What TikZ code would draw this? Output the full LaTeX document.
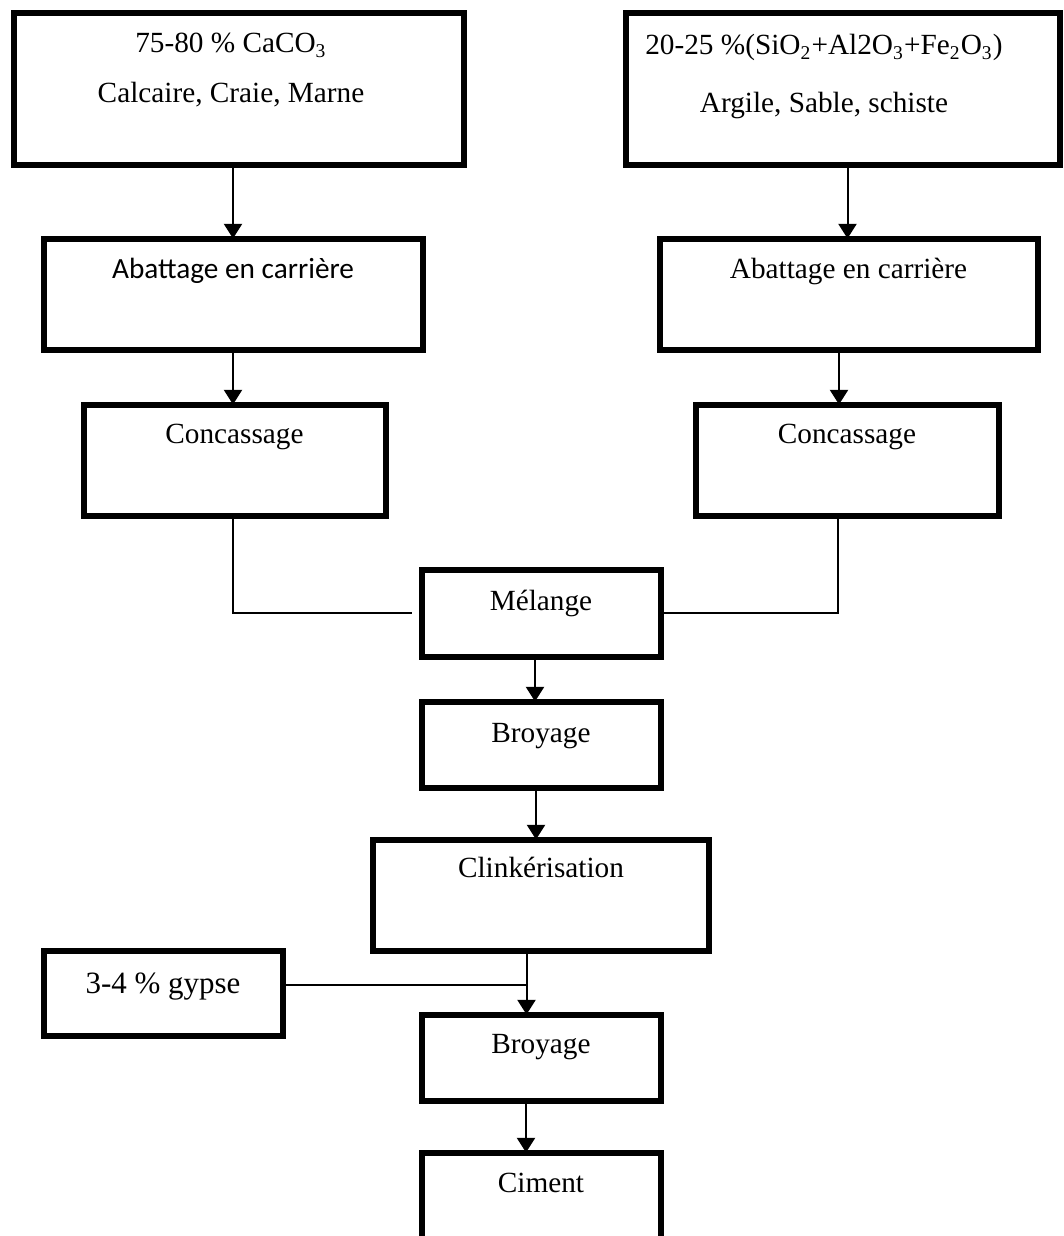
\documentclass[tikz,border=0pt,12pt]{standalone}
\usepackage{fontspec}
\setmainfont{Liberation Serif}
\newfontfamily\calibri{Carlito}
\usetikzlibrary{arrows.meta,positioning}
\newlength{\pxu}
\setlength{\pxu}{0.41pt}

\begin{document}
\begin{tikzpicture}[x=\pxu,y=-\pxu,>={Triangle[width=7.4pt,length=6pt]},
  box/.style={draw,line width=6\pxu,inner sep=0pt,outer sep=0pt}]
\tikzstyle{every path}=[line width=0.82pt];
\useasboundingbox (0,0) rectangle (1064,1236);
% matieres premieres
\node[box,minimum width=450\pxu,text height=39.5\pxu,text depth=111.5\pxu] (calc) at (238.5,89)
  {\begin{tabular}[t]{@{}c@{\hspace{15\pxu}}}75-80 \% CaCO\textsubscript{3}\\[6pt]Calcaire, Craie, Marne\end{tabular}};
\node[box,minimum width=434\pxu,text height=41.5\pxu,text depth=109.5\pxu] (argi) [right=162\pxu of calc]
  {\begin{tabular}[t]{@{}c@{\hspace{37\pxu}}}20-25 \%(SiO\textsubscript{2}+Al2O\textsubscript{3}+Fe\textsubscript{2}O\textsubscript{3})\\[8.9pt]Argile, Sable, schiste\end{tabular}};
% deux branches
\node[box,minimum width=379\pxu,text height=39.5\pxu,text depth=71.5\pxu,font=\calibri] (abatL) [below=74\pxu of calc,xshift=-5.5\pxu] {Abattage en carrière};
\node[box,minimum width=378\pxu,text height=39.5\pxu,text depth=71.5\pxu] (abatR) [below=74\pxu of argi,xshift=6\pxu] {Abattage en carrière};
\node[box,minimum width=302\pxu,text height=38.5\pxu,text depth=72.5\pxu] (concL) [below=55\pxu of abatL,xshift=1.5\pxu] {Concassage};
\node[box,minimum width=303\pxu,text height=38.5\pxu,text depth=72.5\pxu] (concR) [below=55\pxu of abatR,xshift=-1.5\pxu] {Concassage};
% chaine centrale
\node[box,minimum width=239\pxu,text height=40.5\pxu,text depth=46.5\pxu] (mel) [below=54\pxu of concL,xshift=306.5\pxu] {Mélange};
\node[box,minimum width=239\pxu,text height=40.5\pxu,text depth=45.5\pxu] (broy1) [below=45\pxu of mel] {Broyage};
\node[box,minimum width=336\pxu,text height=37.5\pxu,text depth=73.5\pxu] (clink) [below=52\pxu of broy1] {Clinkérisation};
\node[box,minimum width=239\pxu,text height=38.5\pxu,text depth=47.5\pxu] (broy2) [below=64\pxu of clink] {Broyage};
\node[box,minimum width=239\pxu,text height=39.5\pxu,text depth=50\pxu] (cim) [below=52\pxu of broy2] {Ciment};
\node[box,minimum width=239\pxu,text height=42.5\pxu,text depth=42.5\pxu,font=\fontsize{12.7}{15}\selectfont] (gyps) [left=139\pxu of broy2,yshift=64.5\pxu] {3-4 \% gypse};
\coordinate (join) at ([xshift=-14.5\pxu]clink.south);
% liaisons
\draw[->] ([xshift=-5.5\pxu]calc.south) -- (abatL.north);
\draw[->] ([xshift=5\pxu]argi.south) -- ([xshift=-1\pxu]abatR.north);
\draw[->] (abatL.south) -- ([xshift=-1.5\pxu]concL.north);
\draw[->] ([xshift=-9.5\pxu]abatR.south) -- ([xshift=-8\pxu]concR.north);
\draw ([xshift=-1.5\pxu]concL.south) |- ([xshift=-9.5\pxu]mel.west);
\draw ([xshift=-9\pxu]concR.south) |- (mel.east);
\draw[->] ([xshift=-6\pxu]mel.south) -- ([xshift=-6\pxu]broy1.north);
\draw[->] ([xshift=-5\pxu]broy1.south) -- ([xshift=-5\pxu]clink.north);
\draw[->] (join) -- (join |- broy2.north);
\draw ([yshift=8\pxu]gyps.east) -- ([yshift=8\pxu]gyps.east -| join);
\draw[->] ([xshift=-15\pxu]broy2.south) -- ([xshift=-15\pxu]cim.north);
\end{tikzpicture}
\end{document}
